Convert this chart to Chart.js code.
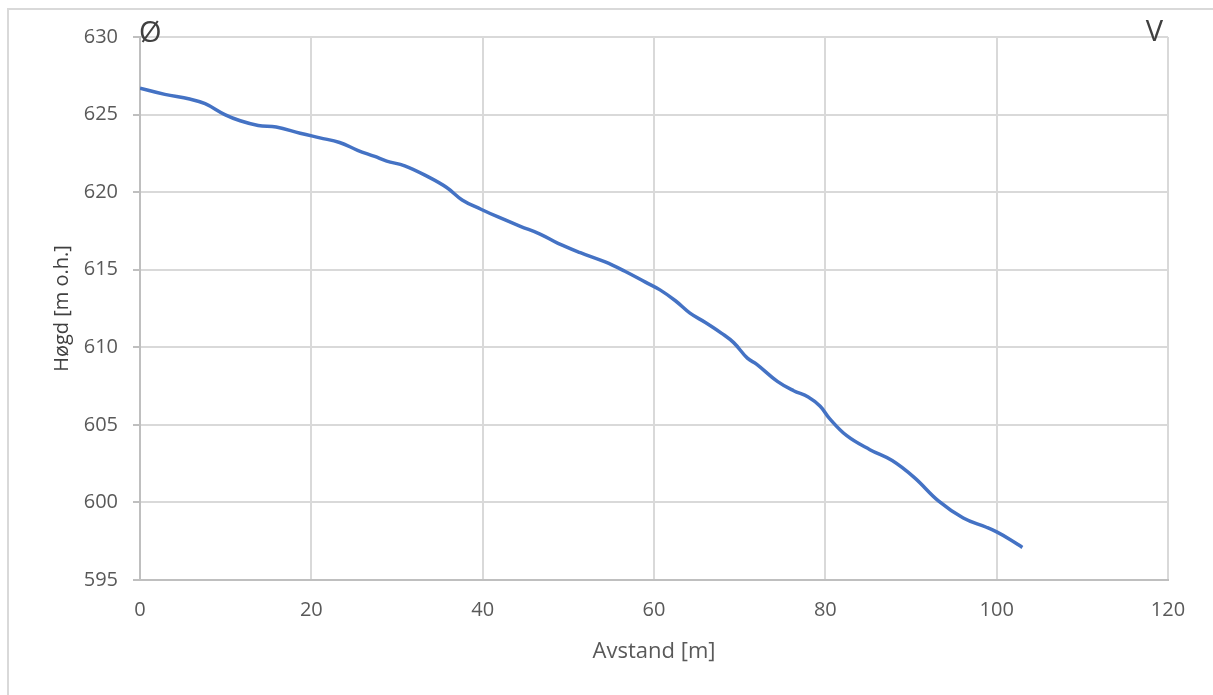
<!DOCTYPE html>
<html>
<head>
<meta charset="utf-8">
<script src="https://cdn.jsdelivr.net/npm/chart.js@4/dist/chart.umd.min.js"></script>
<style>
  html, body { margin: 0; padding: 0; background: #fff; }
  #wrap { position: relative; width: 1213px; height: 695px; overflow: hidden; }
  #frame { position: absolute; left: 7px; top: 8px; width: 1300px; height: 800px; border: 2px solid #d9d9d9; box-sizing: border-box; }
  #graf { position: absolute; left: 0; top: 0; }
</style>
</head>
<body>
<div id="wrap">
  <div id="frame"></div>
  <canvas id="graf" width="1213" height="695"></canvas>
</div>
<script>
// Avstand langs profilen [m]
const avstand = [0, 2.9, 5.8, 7.6, 9.9, 11.7, 13.8, 15.9, 18.7, 21.0, 23.3, 25.4, 27.4, 28.8,
  30.9, 33.6, 35.8, 37.6, 39.8, 41.8, 44.4, 46.7, 48.8, 51.4, 54.3, 56.6, 59.0, 60.7,
  62.5, 64.2, 66.0, 67.9, 69.3, 70.9, 72.0, 74.4, 76.3, 78.0, 79.4, 80.5, 82.5, 85.2,
  87.8, 90.4, 93.2, 96.1, 98.8, 100.0, 101.6, 103.0];

// Høgd [m o.h.]
const hogd = [626.7, 626.3, 626.0, 625.7, 625.0, 624.6, 624.3, 624.2, 623.8, 623.5, 623.2, 622.7, 622.3, 622.0,
  621.7, 621.0, 620.3, 619.5, 618.9, 618.4, 617.8, 617.3, 616.7, 616.1, 615.5, 614.9, 614.2, 613.7,
  613.0, 612.2, 611.6, 610.9, 610.3, 609.3, 608.9, 607.8, 607.2, 606.8, 606.2, 605.4, 604.3, 603.4,
  602.7, 601.6, 600.1, 599.0, 598.4, 598.1, 597.6, 597.1];

const xTicks = [0, 20, 40, 60, 80, 100, 120];
const yTicks = [595, 600, 605, 610, 615, 620, 625, 630];
const retning = ['Ø', 'V'];

const punkt = avstand.map((x, i) => ({ x: x, y: hogd[i] }));

const gridFarge = '#d9d9d9';
const tekstFarge = '#595959';
const skrift = "'Open Sans', 'Liberation Sans', sans-serif";

// teiknar Ø og V øvst i kvart hjørne
const retningPlugin = {
  id: 'retning',
  afterDraw(chart) {
    const { ctx, chartArea } = chart;
    ctx.save();
    ctx.fillStyle = '#404040';
    ctx.font = "29px " + skrift;
    ctx.textBaseline = 'alphabetic';
    ctx.textAlign = 'left';
    ctx.fillText(retning[0], chartArea.left - 1, chartArea.top + 5);
    ctx.textAlign = 'right';
    ctx.fillText(retning[1], chartArea.right - 5, chartArea.top + 4);
    ctx.restore();
  }
};

new Chart(document.getElementById('graf').getContext('2d'), {
  type: 'line',
  data: {
    datasets: [{
      data: punkt,
      borderColor: '#4472c4',
      borderWidth: 3.5,
      pointRadius: 0,
      tension: 0.4,
      fill: false
    }]
  },
  options: {
    responsive: false,
    animation: false,
    layout: { padding: { left: 0, top: 37, right: 45, bottom: 0 } },
    plugins: {
      legend: { display: false },
      tooltip: { enabled: false }
    },
    scales: {
      x: {
        type: 'linear',
        min: 0,
        max: 120,
        afterBuildTicks: (s) => { s.ticks = xTicks.map(v => ({ value: v })); },
        afterFit: (s) => { s.height = 695 - 580; },
        grid: { color: gridFarge, lineWidth: 2, drawTicks: false },
        border: { color: '#bfbfbf', width: 2 },
        ticks: { color: tekstFarge, font: { family: skrift, size: 20 }, padding: 18, maxRotation: 0 },
        title: {
          display: true,
          text: 'Avstand [m]',
          color: tekstFarge,
          font: { family: skrift, size: 22 },
          padding: { top: 0, bottom: 30 }
        }
      },
      y: {
        type: 'linear',
        min: 595,
        max: 630,
        afterBuildTicks: (s) => { s.ticks = yTicks.map(v => ({ value: v })); },
        afterFit: (s) => { s.width = 140; },
        grid: { color: gridFarge, lineWidth: 2, drawTicks: true, tickLength: 7, tickColor: '#bfbfbf' },
        border: { color: '#bfbfbf', width: 2 },
        ticks: { color: tekstFarge, font: { family: skrift, size: 20 }, padding: 15 },
        title: {
          display: true,
          text: 'Høgd [m o.h.]',
          color: '#404040',
          font: { family: skrift, size: 20 },
          padding: { top: 50, bottom: 0 }
        }
      }
    }
  },
  plugins: [retningPlugin]
});
</script>
</body>
</html>
